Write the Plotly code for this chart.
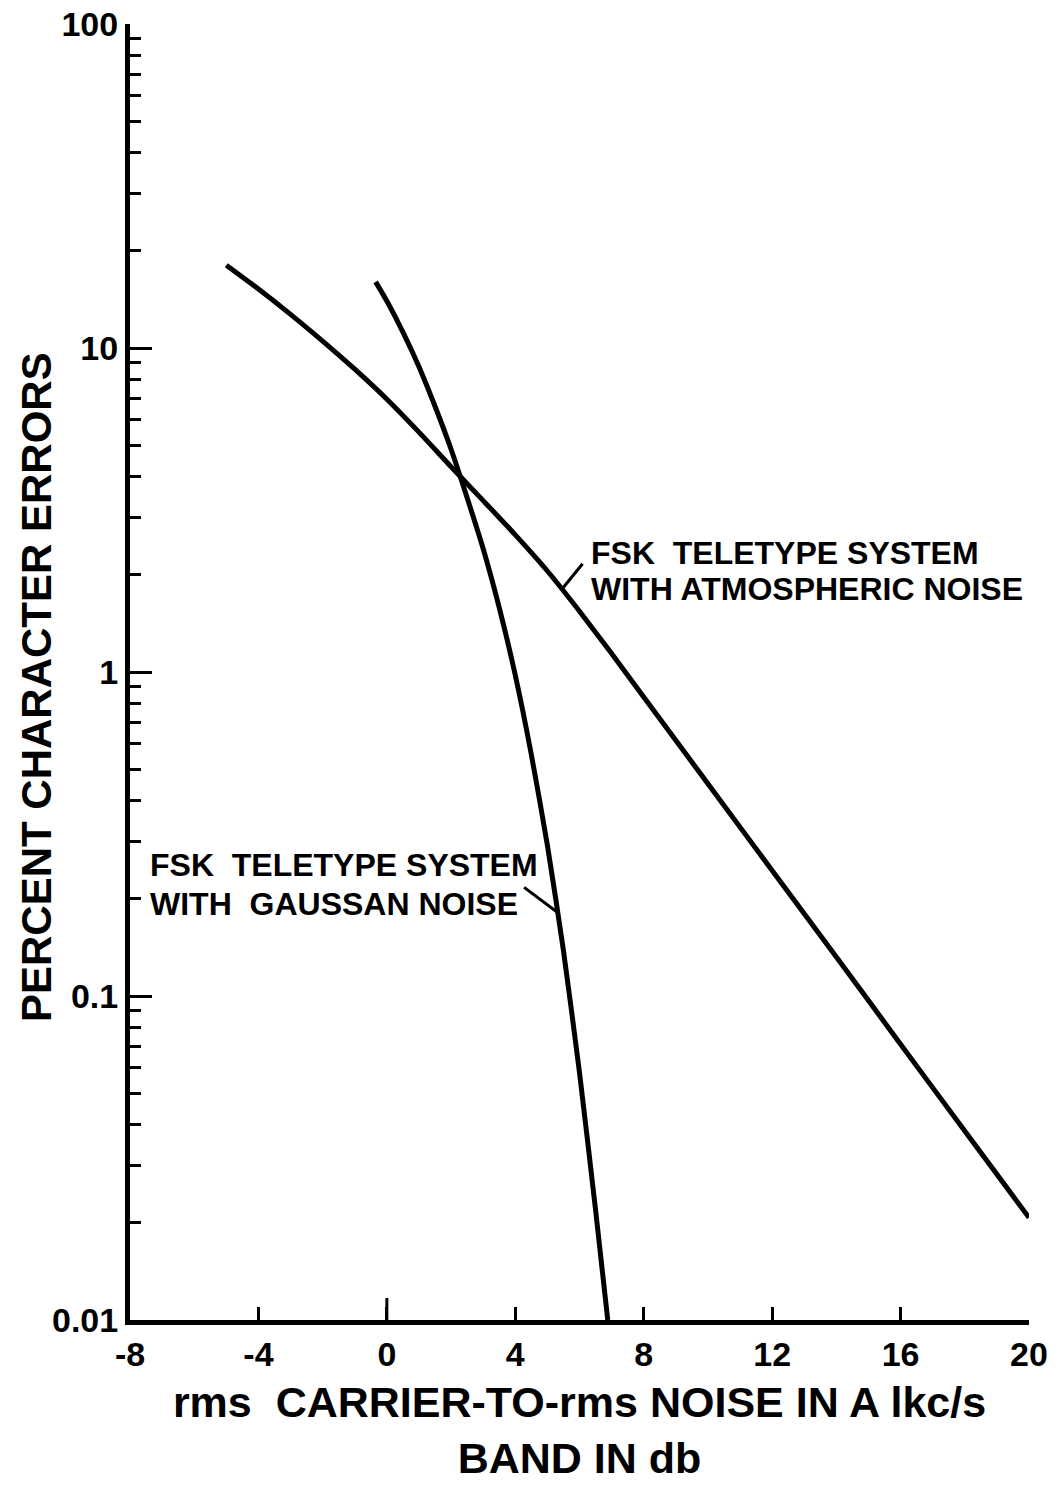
import numpy as np
import plotly.graph_objects as go

# Carrier-to-noise ratio (dB) vs. percent character errors
atmos_db = [-5.0, -4.0, -3.0, -2.0, -1.0, 0.0, 1.0, 2.0, 3.0, 4.0, 5.0, 6.0, 7.0, 8.0,
            10.0, 12.0, 14.0, 16.0, 18.0, 20.0]
atmos_err = [18.0, 15.2, 12.7, 10.5, 8.6, 6.95, 5.5, 4.3, 3.38, 2.65, 2.05, 1.54, 1.14,
             0.837, 0.452, 0.244, 0.132, 0.071, 0.0383, 0.0207]

gauss_db = [-0.35, 0.0, 0.5, 1.0, 1.5, 2.0, 2.5, 3.0, 3.5, 4.0, 4.5, 5.0, 5.5, 6.0, 6.5, 6.88]
gauss_err = [16.0, 13.96, 11.2, 8.76, 6.61, 4.87, 3.45, 2.4, 1.58, 0.977, 0.556, 0.292,
             0.138, 0.058, 0.0219, 0.01]

x_ticks = [-8, -4, 0, 4, 8, 12, 16, 20]
y_ticks = [0.01, 0.1, 1, 10, 100]
y_ticktext = ["0.01", "0.1", "1", "10", "100"]

FONT = "Liberation Sans"
BLACK = "black"

fig = go.Figure()
for xs, ys in ((atmos_db, atmos_err), (gauss_db, gauss_err)):
    fig.add_trace(go.Scatter(x=xs, y=ys, mode="lines",
                             line=dict(color=BLACK, width=5, shape="spline", smoothing=0.6),
                             showlegend=False, hoverinfo="skip"))

# minor ticks at 2..9 of each decade
minor_vals = [m * 10.0 ** d for d in range(-2, 2) for m in range(2, 10)]

fig.update_xaxes(
    range=[-8, 20], tickvals=x_ticks, ticktext=[str(v) for v in x_ticks],
    ticks="inside", ticklen=13, tickwidth=3, tickcolor=BLACK,
    showline=True, linewidth=5, linecolor=BLACK, showgrid=False, zeroline=False,
    automargin=False,
    tickfont=dict(family=FONT, size=34, color=BLACK, weight="bold"),
    title=dict(text="rms  CARRIER-TO-rms NOISE IN A lkc/s<br>BAND IN db",
               font=dict(family=FONT, size=43, color=BLACK, weight="bold"),
               standoff=17),
)
fig.update_yaxes(
    type="log", range=[-2, 2], tickvals=y_ticks, ticktext=y_ticktext,
    ticks="inside", ticklen=22, tickwidth=3, tickcolor=BLACK,
    showline=True, linewidth=5, linecolor=BLACK, showgrid=False, zeroline=False,
    automargin=False,
    tickfont=dict(family=FONT, size=34, color=BLACK, weight="bold"),
    minor=dict(tickvals=minor_vals, ticks="inside", ticklen=11, tickwidth=3,
               tickcolor=BLACK, showgrid=False),
)

# vertical axis title
fig.add_annotation(text="PERCENT CHARACTER ERRORS", textangle=-90,
                   xref="paper", yref="paper", x=-0.104, y=0.488,
                   xanchor="center", yanchor="middle", showarrow=False,
                   font=dict(family=FONT, size=42, color=BLACK, weight="bold"))

# the 0 dB tick is drawn a little longer than the rest
fig.add_shape(type="line", xref="x", yref="paper", x0=0, x1=0, y0=0, y1=0.017,
              line=dict(color=BLACK, width=3))

label_font = dict(family=FONT, size=32, color=BLACK, weight="bold")
curve_labels = [
    (6.3, 0.592, "FSK  TELETYPE SYSTEM"),
    (6.3, 0.564, "WITH ATMOSPHERIC NOISE"),
    (-7.45, 0.351, "FSK  TELETYPE SYSTEM"),
    (-7.45, 0.321, "WITH  GAUSSAN NOISE"),
]
for lx, ly, txt in curve_labels:
    fig.add_annotation(x=lx, y=ly, xref="x", yref="paper", text=txt,
                       showarrow=False, xanchor="left", yanchor="middle",
                       font=label_font)

# leader lines from the labels to the curves
fig.add_annotation(x=5.45, y=np.log10(1.8), xref="x", yref="y", text="",
                   showarrow=True, arrowhead=0, arrowwidth=3, arrowcolor=BLACK,
                   ax=22, ay=-27)
fig.add_annotation(x=5.35, y=np.log10(0.18), xref="x", yref="y", text="",
                   showarrow=True, arrowhead=0, arrowwidth=3, arrowcolor=BLACK,
                   ax=-36, ay=-27)

fig.update_layout(
    width=1064, height=1488,
    margin=dict(l=130, r=35, t=24, b=168),
    paper_bgcolor="white", plot_bgcolor="white",
    showlegend=False,
)

fig.write_html("out.html")
